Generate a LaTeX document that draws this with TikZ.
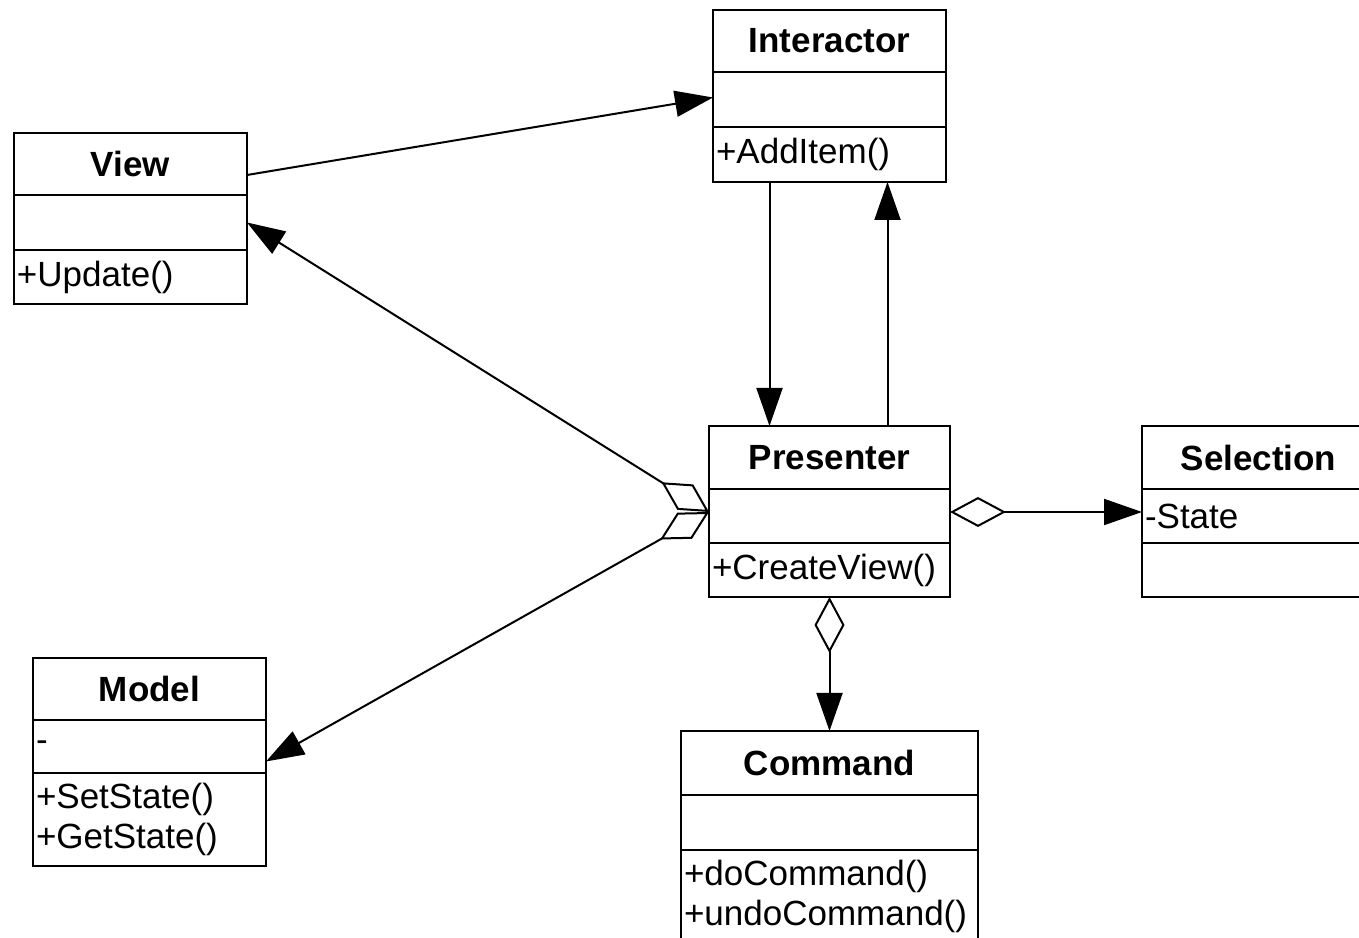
\documentclass[tikz,border=0pt]{standalone}
\usepackage{fontspec}
\setmainfont{Liberation Sans}
\usetikzlibrary{positioning,arrows.meta}
\tikzset{
  cls/.style={draw,line width=1.2pt,outer sep=0pt,inner xsep=1.5pt,inner ysep=0pt,anchor=north west,align=center,font=\bfseries\fontsize{17.5}{20}\selectfont},
  mem/.style={draw,line width=1.2pt,outer sep=0pt,inner xsep=1.5pt,inner ysep=0pt,align=left,font=\fontsize{17.5}{20}\selectfont},
  assoc/.style={-{Triangle[length=19pt,width=13pt]},line width=1pt},
  aggr/.style={{Diamond[open,length=28pt,width=15pt]}-{Triangle[length=19pt,width=13pt]},line width=1pt}
}
\begin{document}
\begin{tikzpicture}[x=0.5pt,y=0.5pt]
\clip (0,0) rectangle (1359,937);
% classes
\node[cls,text width=113.5pt,minimum height=31pt] (inter) at (713,927) {Interactor};
\node[mem,text width=113.5pt,minimum height=27.5pt,below=0pt of inter] (inter-a) {};
\node[mem,text width=113.5pt,minimum height=27.5pt,below=0pt of inter-a] (inter-m) {+AddItem()};
\node[cls,text width=113.5pt,minimum height=31pt] (view) at (14,804) {View};
\node[mem,text width=113.5pt,minimum height=27.5pt,below=0pt of view] (view-a) {};
\node[mem,text width=113.5pt,minimum height=27pt,below=0pt of view-a] (view-m) {+Update()};
\node[cls,text width=117.5pt,minimum height=31.5pt] (pres) at (709,511) {Presenter};
\node[mem,text width=117.5pt,minimum height=27pt,below=0pt of pres] (pres-a) {};
\node[mem,text width=117.5pt,minimum height=27pt,below=0pt of pres-a] (pres-m) {+CreateView()};
\node[cls,text width=113.5pt,minimum height=31.5pt] (sel) at (1142,511) {Selection};
\node[mem,text width=113.5pt,minimum height=27pt,below=0pt of sel] (sel-a) {-State};
\node[mem,text width=113.5pt,minimum height=27pt,below=0pt of sel-a] (sel-m) {};
\node[cls,text width=113.5pt,minimum height=31pt] (model) at (33,279) {Model};
\node[mem,text width=113.5pt,minimum height=26.5pt,below=0pt of model] (model-a) {-};
\node[mem,text width=113.5pt,minimum height=46.5pt,below=0pt of model-a] (model-m) {+SetState()\\+GetState()};
\node[cls,text width=145.5pt,minimum height=32pt] (cmd) at (681,206) {Command};
\node[mem,text width=145.5pt,minimum height=27.5pt,below=0pt of cmd] (cmd-a) {};
\node[mem,text width=145.5pt,minimum height=46.5pt,below=0pt of cmd-a] (cmd-m) {+doCommand()\\+undoCommand()};
% relations
\draw[assoc] ([yshift=-5.5pt]view.east) -- ([yshift=1pt]inter-a.west);
\draw[assoc] ([xshift=-30pt]inter-m.south) -- ([xshift=-30pt]pres.north);
\draw[assoc] ([xshift=29pt]pres.north) -- ([xshift=29pt]inter-m.south);
\draw[aggr] ([yshift=2pt]pres-a.west) -- (view-a.east);
\draw[aggr] ([yshift=2pt]pres-a.west) -- ([yshift=-7.5pt]model-a.east);
\draw[aggr] ([yshift=2pt]pres-a.east) -- ([yshift=2pt]sel-a.west);
\draw[aggr] (pres-m.south) -- (cmd.north);
\end{tikzpicture}
\end{document}
